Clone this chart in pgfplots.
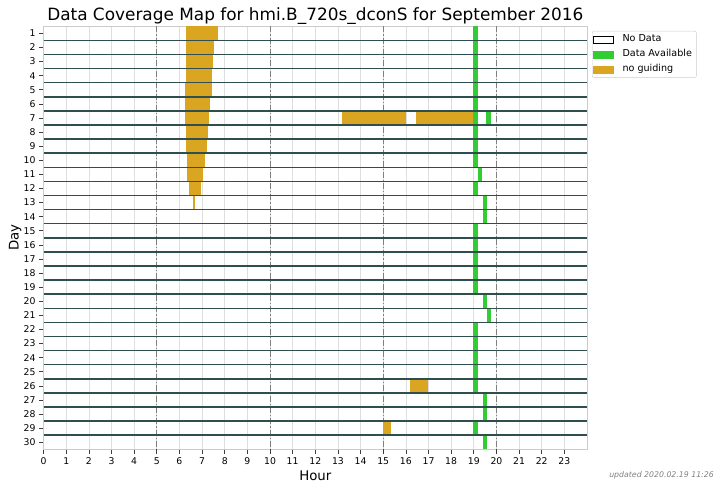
\documentclass[border=0pt]{standalone}
\usepackage{fontspec}
\setmainfont{DejaVu Sans}
\usepackage{pgfplots}
\pgfplotsset{compat=1.18}
\definecolor{gold}{RGB}{218,165,32}
\definecolor{lime}{RGB}{50,205,50}
\definecolor{dslate}{RGB}{47,79,79}
\definecolor{lgrid}{RGB}{222,222,222}
\definecolor{framec}{RGB}{204,204,204}
\definecolor{tickc}{RGB}{60,60,60}
\begin{document}
\begin{tikzpicture}[x=1pt,y=1pt]
\useasboundingbox (0,0) rectangle (721,490);
\begin{axis}[
  at={(43.6pt,40.7pt)}, anchor=south west,
  width=543.4pt, height=423pt, scale only axis,
  xmin=0, xmax=24, ymin=0.5, ymax=30.5, y dir=reverse,
  xtick={0,...,23}, ytick={1,...,30},
  tick pos=left, tick align=outside, major tick length=4.5pt,
  tick style={color=tickc, line width=0.7pt},
  axis line style={framec, line width=0.8pt},
  xmajorgrids, grid style={lgrid, line width=0.7pt},
  extra x ticks={5,10,15,20}, extra x tick labels={},
  extra x tick style={grid style={gray, line width=1pt, dash pattern=on 6pt off 2pt on 1.2pt off 2pt}},
  ticklabel style={font=\fontsize{9.3}{10}\selectfont, text=black},
  /pgf/number format/assume math mode=true,
  legend style={at={(1.0092,0.989)}, anchor=north west, draw=framec, rounded corners=2pt,
    font=\fontsize{9.6}{11}\selectfont, inner xsep=1pt, inner ysep=2.5pt, row sep=3.5pt,
    nodes={inner ysep=1pt, inner xsep=3.5pt, text height=7.3pt, text depth=2.2pt},
    /tikz/every odd column/.append style={column sep=5pt}},
  legend cell align=left,
]
\addlegendimage{legend image code/.code={\draw[sharp corners,fill=white,draw=black,line width=0.8pt] (0pt,-3.5pt) rectangle (20pt,3.5pt);}}
\addlegendentry{No Data}
\addlegendimage{legend image code/.code={\fill[sharp corners,lime] (0pt,-3.5pt) rectangle (20pt,3.5pt);}}
\addlegendentry{Data Available}
\addlegendimage{legend image code/.code={\fill[sharp corners,gold] (0pt,-3.5pt) rectangle (20pt,3.5pt);}}
\addlegendentry{no guiding}

% no guiding intervals (hour start, day) -- (hour end, day)
\addplot[gold, line width=14.1pt, line cap=butt, unbounded coords=jump, forget plot] coordinates {
(6.30,1)(7.70,1)(nan,nan)
(6.29,2)(7.52,2)(nan,nan)
(6.27,3)(7.48,3)(nan,nan)
(6.27,4)(7.45,4)(nan,nan)
(6.26,5)(7.42,5)(nan,nan)
(6.26,6)(7.36,6)(nan,nan)
(6.26,7)(7.31,7)(nan,nan)
(13.18,7)(16.00,7)(nan,nan)
(16.44,7)(19.12,7)(nan,nan)
(6.27,8)(7.27,8)(nan,nan)
(6.29,9)(7.21,9)(nan,nan)
(6.32,10)(7.14,10)(nan,nan)
(6.35,11)(7.05,11)(nan,nan)
(6.42,12)(6.94,12)(nan,nan)
(6.58,13)(6.68,13)(nan,nan)
(16.17,26)(16.96,26)(nan,nan)
(14.97,29)(15.34,29)
};
% data available intervals
\addplot[lime, line width=14.1pt, line cap=butt, unbounded coords=jump, forget plot] coordinates {
(18.98,1)(19.17,1)(nan,nan)
(18.98,2)(19.17,2)(nan,nan)
(18.98,3)(19.17,3)(nan,nan)
(18.98,4)(19.17,4)(nan,nan)
(18.98,5)(19.17,5)(nan,nan)
(18.98,6)(19.17,6)(nan,nan)
(18.98,7)(19.17,7)(nan,nan)
(19.56,7)(19.75,7)(nan,nan)
(18.98,8)(19.17,8)(nan,nan)
(18.98,9)(19.17,9)(nan,nan)
(18.98,10)(19.17,10)(nan,nan)
(19.19,11)(19.37,11)(nan,nan)
(18.98,12)(19.17,12)(nan,nan)
(19.39,13)(19.57,13)(nan,nan)
(19.39,14)(19.57,14)(nan,nan)
(18.98,15)(19.17,15)(nan,nan)
(18.98,16)(19.17,16)(nan,nan)
(18.98,17)(19.17,17)(nan,nan)
(18.98,18)(19.17,18)(nan,nan)
(18.98,19)(19.17,19)(nan,nan)
(19.39,20)(19.57,20)(nan,nan)
(19.58,21)(19.77,21)(nan,nan)
(18.98,22)(19.17,22)(nan,nan)
(18.98,23)(19.17,23)(nan,nan)
(18.98,24)(19.17,24)(nan,nan)
(18.98,25)(19.17,25)(nan,nan)
(18.98,26)(19.17,26)(nan,nan)
(19.39,27)(19.57,27)(nan,nan)
(19.39,28)(19.57,28)(nan,nan)
(18.98,29)(19.17,29)(nan,nan)
(19.39,30)(19.57,30)
};
% day separators
\addplot[dslate, line width=1.5pt, unbounded coords=jump, forget plot] coordinates {
(0,1.5)(24,1.5)(nan,nan)(0,2.5)(24,2.5)(nan,nan)(0,3.5)(24,3.5)(nan,nan)
(0,4.5)(24,4.5)(nan,nan)(0,5.5)(24,5.5)(nan,nan)(0,6.5)(24,6.5)(nan,nan)
(0,7.5)(24,7.5)(nan,nan)(0,8.5)(24,8.5)(nan,nan)(0,9.5)(24,9.5)(nan,nan)
(0,10.5)(24,10.5)(nan,nan)(0,11.5)(24,11.5)(nan,nan)(0,12.5)(24,12.5)(nan,nan)
(0,13.5)(24,13.5)(nan,nan)(0,14.5)(24,14.5)(nan,nan)(0,15.5)(24,15.5)(nan,nan)
(0,16.5)(24,16.5)(nan,nan)(0,17.5)(24,17.5)(nan,nan)(0,18.5)(24,18.5)(nan,nan)
(0,19.5)(24,19.5)(nan,nan)(0,20.5)(24,20.5)(nan,nan)(0,21.5)(24,21.5)(nan,nan)
(0,22.5)(24,22.5)(nan,nan)(0,23.5)(24,23.5)(nan,nan)(0,24.5)(24,24.5)(nan,nan)
(0,25.5)(24,25.5)(nan,nan)(0,26.5)(24,26.5)(nan,nan)(0,27.5)(24,27.5)(nan,nan)
(0,28.5)(24,28.5)(nan,nan)(0,29.5)(24,29.5)
};
\end{axis}
\node[anchor=base, font=\fontsize{16.9}{19}\selectfont] at (315.3,469.5) {Data Coverage Map for hmi.B\_720s\_dconS for September 2016};
\node[anchor=base, rotate=90, font=\fontsize{13.3}{15}\selectfont] at (18.5,252.2) {Day};
\node[anchor=base, font=\fontsize{13.3}{15}\selectfont] at (315.3,9) {Hour};
\node[anchor=base east, inner sep=0pt, text=gray, font=\fontsize{7.8}{9}\selectfont\itshape] at (714,12) {updated 2020.02.19 11:26};
\end{tikzpicture}
\end{document}
